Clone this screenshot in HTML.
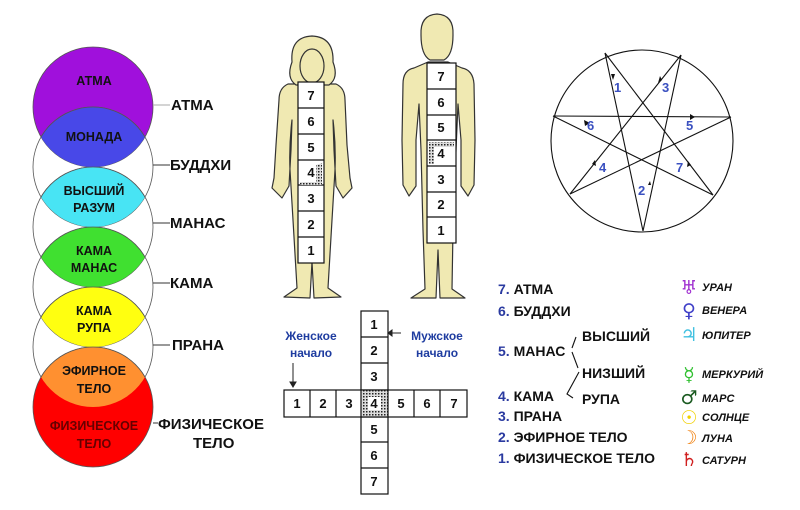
<!DOCTYPE html>
<html><head><meta charset="utf-8"><style>
html,body{margin:0;padding:0;background:#fff;}
svg{display:block;font-family:"Liberation Sans",sans-serif;}
svg text{font-weight:700;}
</style></head><body>
<svg width="800" height="510" viewBox="0 0 800 510" xmlns="http://www.w3.org/2000/svg">
<defs>
<pattern id="h" width="3" height="3" patternUnits="userSpaceOnUse"><rect width="3" height="3" fill="#ddd"/><rect width="1.5" height="1.5" fill="#222"/></pattern>
<clipPath id="c1"><circle cx="93" cy="107" r="60"/></clipPath>
<clipPath id="c2"><circle cx="93" cy="167" r="60"/></clipPath>
<clipPath id="c3"><circle cx="93" cy="227" r="60"/></clipPath>
<clipPath id="c4"><circle cx="93" cy="287" r="60"/></clipPath>
<clipPath id="c5"><circle cx="93" cy="347" r="60"/></clipPath>
</defs>

<g stroke="#555" stroke-width="0.8">
<circle cx="93" cy="107" r="60" fill="#a010dc"/>
<circle cx="93" cy="167" r="60" fill="none"/>
<circle cx="93" cy="227" r="60" fill="none"/>
<circle cx="93" cy="287" r="60" fill="none"/>
<circle cx="93" cy="347" r="60" fill="none"/>
<circle cx="93" cy="407" r="60" fill="#ff0000"/>
</g>
<g stroke="#555" stroke-width="0.8">
<circle cx="93" cy="167" r="60" fill="#4848e8" clip-path="url(#c1)"/>
<circle cx="93" cy="227" r="60" fill="#48e4f4" clip-path="url(#c2)"/>
<circle cx="93" cy="287" r="60" fill="#40e030" clip-path="url(#c3)"/>
<circle cx="93" cy="347" r="60" fill="#ffff10" clip-path="url(#c4)"/>
<circle cx="93" cy="407" r="60" fill="#ff9030" clip-path="url(#c5)"/>
</g>
<g font-size="12.5" text-anchor="middle" fill="#111">
<text x="94" y="85">АТМА</text>
<text x="94" y="141">МОНАДА</text>
<text x="94" y="195">ВЫСШИЙ</text><text x="94" y="212">РАЗУМ</text>
<text x="94" y="255">КАМА</text><text x="94" y="272">МАНАС</text>
<text x="94" y="315">КАМА</text><text x="94" y="332">РУПА</text>
<text x="94" y="375">ЭФИРНОЕ</text><text x="94" y="393">ТЕЛО</text>
<text x="94" y="430" fill="#600">ФИЗИЧЕСКОЕ</text><text x="94" y="448" fill="#600">ТЕЛО</text>
</g>
<g stroke="#333" stroke-width="1">
<line x1="153" y1="105" x2="170" y2="105" stroke="#aaa"/>
<line x1="153" y1="165" x2="170" y2="165"/>
<line x1="153" y1="223" x2="170" y2="223"/>
<line x1="153" y1="283" x2="170" y2="283"/>
<line x1="153" y1="345" x2="170" y2="345"/>
<line x1="153" y1="423" x2="158" y2="423"/>
</g>
<g font-size="15" fill="#111">
<text x="171" y="110">АТМА</text>
<text x="170" y="170">БУДДХИ</text>
<text x="170" y="228">МАНАС</text>
<text x="170" y="288">КАМА</text>
<text x="172" y="350">ПРАНА</text>
<text x="158" y="429">ФИЗИЧЕСКОЕ</text>
<text x="193" y="448">ТЕЛО</text>
</g>

<!-- female -->
<g fill="#f0e9b2" stroke="#333" stroke-width="1.2" stroke-linejoin="round">
<path d="M288,84 Q279,88 279,100 L276,145 L274,178 L272,188 L282,198 L289,186 L291,150 L292,120 Q289,145 290,170 L293,220 L297,288 L284,297 L310,298 L312,262 L314,298 L341,297 L328,288 L332,220 L335,170 Q336,145 333,120 L334,150 L336,186 L343,198 L352,188 L350,178 L347,145 L345,100 Q345,88 336,84 Z"/>
<path d="M312,36 Q290,37 292,62 Q286,78 296,85 L329,85 Q339,78 333,62 Q334,37 312,36 Z"/>
<ellipse cx="312" cy="66" rx="12" ry="17"/>
</g>
<!-- male -->
<g fill="#f0e9b2" stroke="#333" stroke-width="1.2" stroke-linejoin="round">
<path d="M414,68 Q403,70 403,84 L402,140 L403,185 L409,196 L416,186 L416,140 L419,104 L421,150 L423,230 L425,289 L411,298 L436,298 L438,250 L440,298 L465,298 L452,289 L453,230 L456,150 L458,104 L461,140 L461,186 L468,196 L474,185 L475,140 L474,84 Q473,70 462,68 L448,62 L428,62 Z"/>
<path d="M437,14 Q420,15 421,35 Q421,55 430,60 L444,60 Q453,55 453,35 Q454,15 437,14 Z"/>
</g>

<g stroke="#111" stroke-width="1.2" fill="#fff">
<rect x="298" y="82" width="26" height="181"/>
<line x1="298" y1="108" x2="324" y2="108"/><line x1="298" y1="134" x2="324" y2="134"/>
<line x1="298" y1="160" x2="324" y2="160"/><line x1="298" y1="185" x2="324" y2="185"/>
<line x1="298" y1="211" x2="324" y2="211"/><line x1="298" y1="237" x2="324" y2="237"/>
<rect x="427" y="63" width="29" height="180"/>
<line x1="427" y1="89" x2="456" y2="89"/><line x1="427" y1="115" x2="456" y2="115"/>
<line x1="427" y1="140" x2="456" y2="140"/><line x1="427" y1="166" x2="456" y2="166"/>
<line x1="427" y1="192" x2="456" y2="192"/><line x1="427" y1="217" x2="456" y2="217"/>
</g>
<path d="M300,182 L316,182 L316,165 L322,163 L322,185 L300,185 Z" fill="url(#h)"/>
<path d="M429,142 L454,142 L454,147 L434,147 L434,164 L429,164 Z" fill="url(#h)"/>
<g font-size="13" text-anchor="middle" fill="#111">
<text x="311" y="100">7</text><text x="311" y="126">6</text><text x="311" y="152">5</text><text x="311" y="177">4</text><text x="311" y="203">3</text><text x="311" y="229">2</text><text x="311" y="255">1</text>
<text x="441" y="81">7</text><text x="441" y="107">6</text><text x="441" y="132">5</text><text x="441" y="158">4</text><text x="441" y="184">3</text><text x="441" y="209">2</text><text x="441" y="235">1</text>
</g>

<g stroke="#111" stroke-width="1.2" fill="#fff">
<rect x="361" y="311" width="27" height="183"/>
<rect x="284" y="390" width="183" height="27"/>
<rect x="361" y="390" width="27" height="27" fill="url(#h)"/>
<line x1="361" y1="337" x2="388" y2="337"/><line x1="361" y1="363" x2="388" y2="363"/>
<line x1="361" y1="442" x2="388" y2="442"/><line x1="361" y1="468" x2="388" y2="468"/>
<line x1="310" y1="390" x2="310" y2="417"/><line x1="336" y1="390" x2="336" y2="417"/>
<line x1="414" y1="390" x2="414" y2="417"/><line x1="440" y1="390" x2="440" y2="417"/>
</g>
<rect x="368" y="397" width="13" height="13" fill="#fff"/>
<g font-size="13" text-anchor="middle" fill="#111">
<text x="374" y="329">1</text><text x="374" y="355">2</text><text x="374" y="381">3</text><text x="374" y="408">4</text>
<text x="374" y="434">5</text><text x="374" y="460">6</text><text x="374" y="486">7</text>
<text x="297" y="408">1</text><text x="323" y="408">2</text><text x="349" y="408">3</text>
<text x="401" y="408">5</text><text x="427" y="408">6</text><text x="454" y="408">7</text>
</g>
<g font-size="12" fill="#1e3ca0" text-anchor="middle">
<text x="311" y="340">Женское</text><text x="311" y="357">начало</text>
<text x="437" y="340">Мужское</text><text x="437" y="357">начало</text>
</g>
<g stroke="#222" stroke-width="1" fill="#222">
<line x1="293" y1="363" x2="293" y2="383"/><path d="M290,382 L296,382 L293,387 Z"/>
<line x1="391" y1="333" x2="401" y2="333"/><path d="M392,330 L392,336 L388,333 Z"/>
</g>

<g stroke="#111" stroke-width="1.1" fill="none">
<circle cx="642" cy="141" r="91"/>
<line x1="605" y1="53" x2="643" y2="231"/>
<line x1="605" y1="53" x2="713" y2="195"/>
<line x1="681" y1="55" x2="643" y2="231"/>
<line x1="681" y1="55" x2="570" y2="194"/>
<line x1="553" y1="116" x2="731" y2="117"/>
<line x1="553" y1="116" x2="713" y2="195"/>
<line x1="570" y1="194" x2="731" y2="117"/>
</g>
<g fill="#111">
<path d="M611,74 L615,74 L613,80 Z"/>
<path d="M658,83 L662,80 L660,76 Z"/>
<path d="M690,114 L690,120 L695,117 Z"/>
<path d="M584,120 L585,126 L590,123 Z"/>
<path d="M592,164 L596,166 L595,160 Z"/>
<path d="M687,167 L691,165 L688,161 Z"/>
<path d="M648,185 L651,185 L650,181 Z"/>
</g>
<g font-size="13" fill="#3a50c0">
<text x="614" y="92">1</text><text x="662" y="92">3</text>
<text x="587" y="130">6</text><text x="686" y="130">5</text>
<text x="599" y="172">4</text><text x="676" y="172">7</text>
<text x="638" y="195">2</text>
</g>

<g font-size="14" fill="#111">
<text x="498" y="294"><tspan fill="#2a3aa0">7.</tspan> АТМА</text>
<text x="498" y="316"><tspan fill="#2a3aa0">6.</tspan> БУДДХИ</text>
<text x="582" y="341">ВЫСШИЙ</text>
<text x="498" y="356"><tspan fill="#2a3aa0">5.</tspan> МАНАС</text>
<text x="582" y="378">НИЗШИЙ</text>
<text x="498" y="401"><tspan fill="#2a3aa0">4.</tspan> КАМА</text>
<text x="582" y="404">РУПА</text>
<text x="498" y="421"><tspan fill="#2a3aa0">3.</tspan> ПРАНА</text>
<text x="498" y="442"><tspan fill="#2a3aa0">2.</tspan> ЭФИРНОЕ ТЕЛО</text>
<text x="498" y="463"><tspan fill="#2a3aa0">1.</tspan> ФИЗИЧЕСКОЕ ТЕЛО</text>
</g>
<g stroke="#111" stroke-width="1.1" fill="none">
<polyline points="576,337 572,348"/>
<polyline points="572,352 578,368"/>
<polyline points="579,372 567,394 573,398"/>
</g>
<g font-size="19" text-anchor="middle" font-family="DejaVu Sans,sans-serif">
<text x="689" y="294" fill="#a030d0">♅</text>
<text x="689" y="317" fill="#4040c8">♀</text>
<text x="689" y="341" fill="#40c0e0">♃</text>
<text x="689" y="381" fill="#30c030">☿</text>
<text x="689" y="404" fill="#1a5a20">♂</text>
<text x="689" y="424" fill="#f0d000">☉</text>
<text x="689" y="444" fill="#f08010">☽</text>
<text x="689" y="466" fill="#d02020">♄</text>
</g>
<g font-style="italic" font-size="11" fill="#111">
<text x="702" y="291">УРАН</text>
<text x="702" y="314">ВЕНЕРА</text>
<text x="702" y="339">ЮПИТЕР</text>
<text x="702" y="378">МЕРКУРИЙ</text>
<text x="702" y="402">МАРС</text>
<text x="702" y="421">СОЛНЦЕ</text>
<text x="702" y="442">ЛУНА</text>
<text x="702" y="464">САТУРН</text>
</g>
</svg>
</body></html>
